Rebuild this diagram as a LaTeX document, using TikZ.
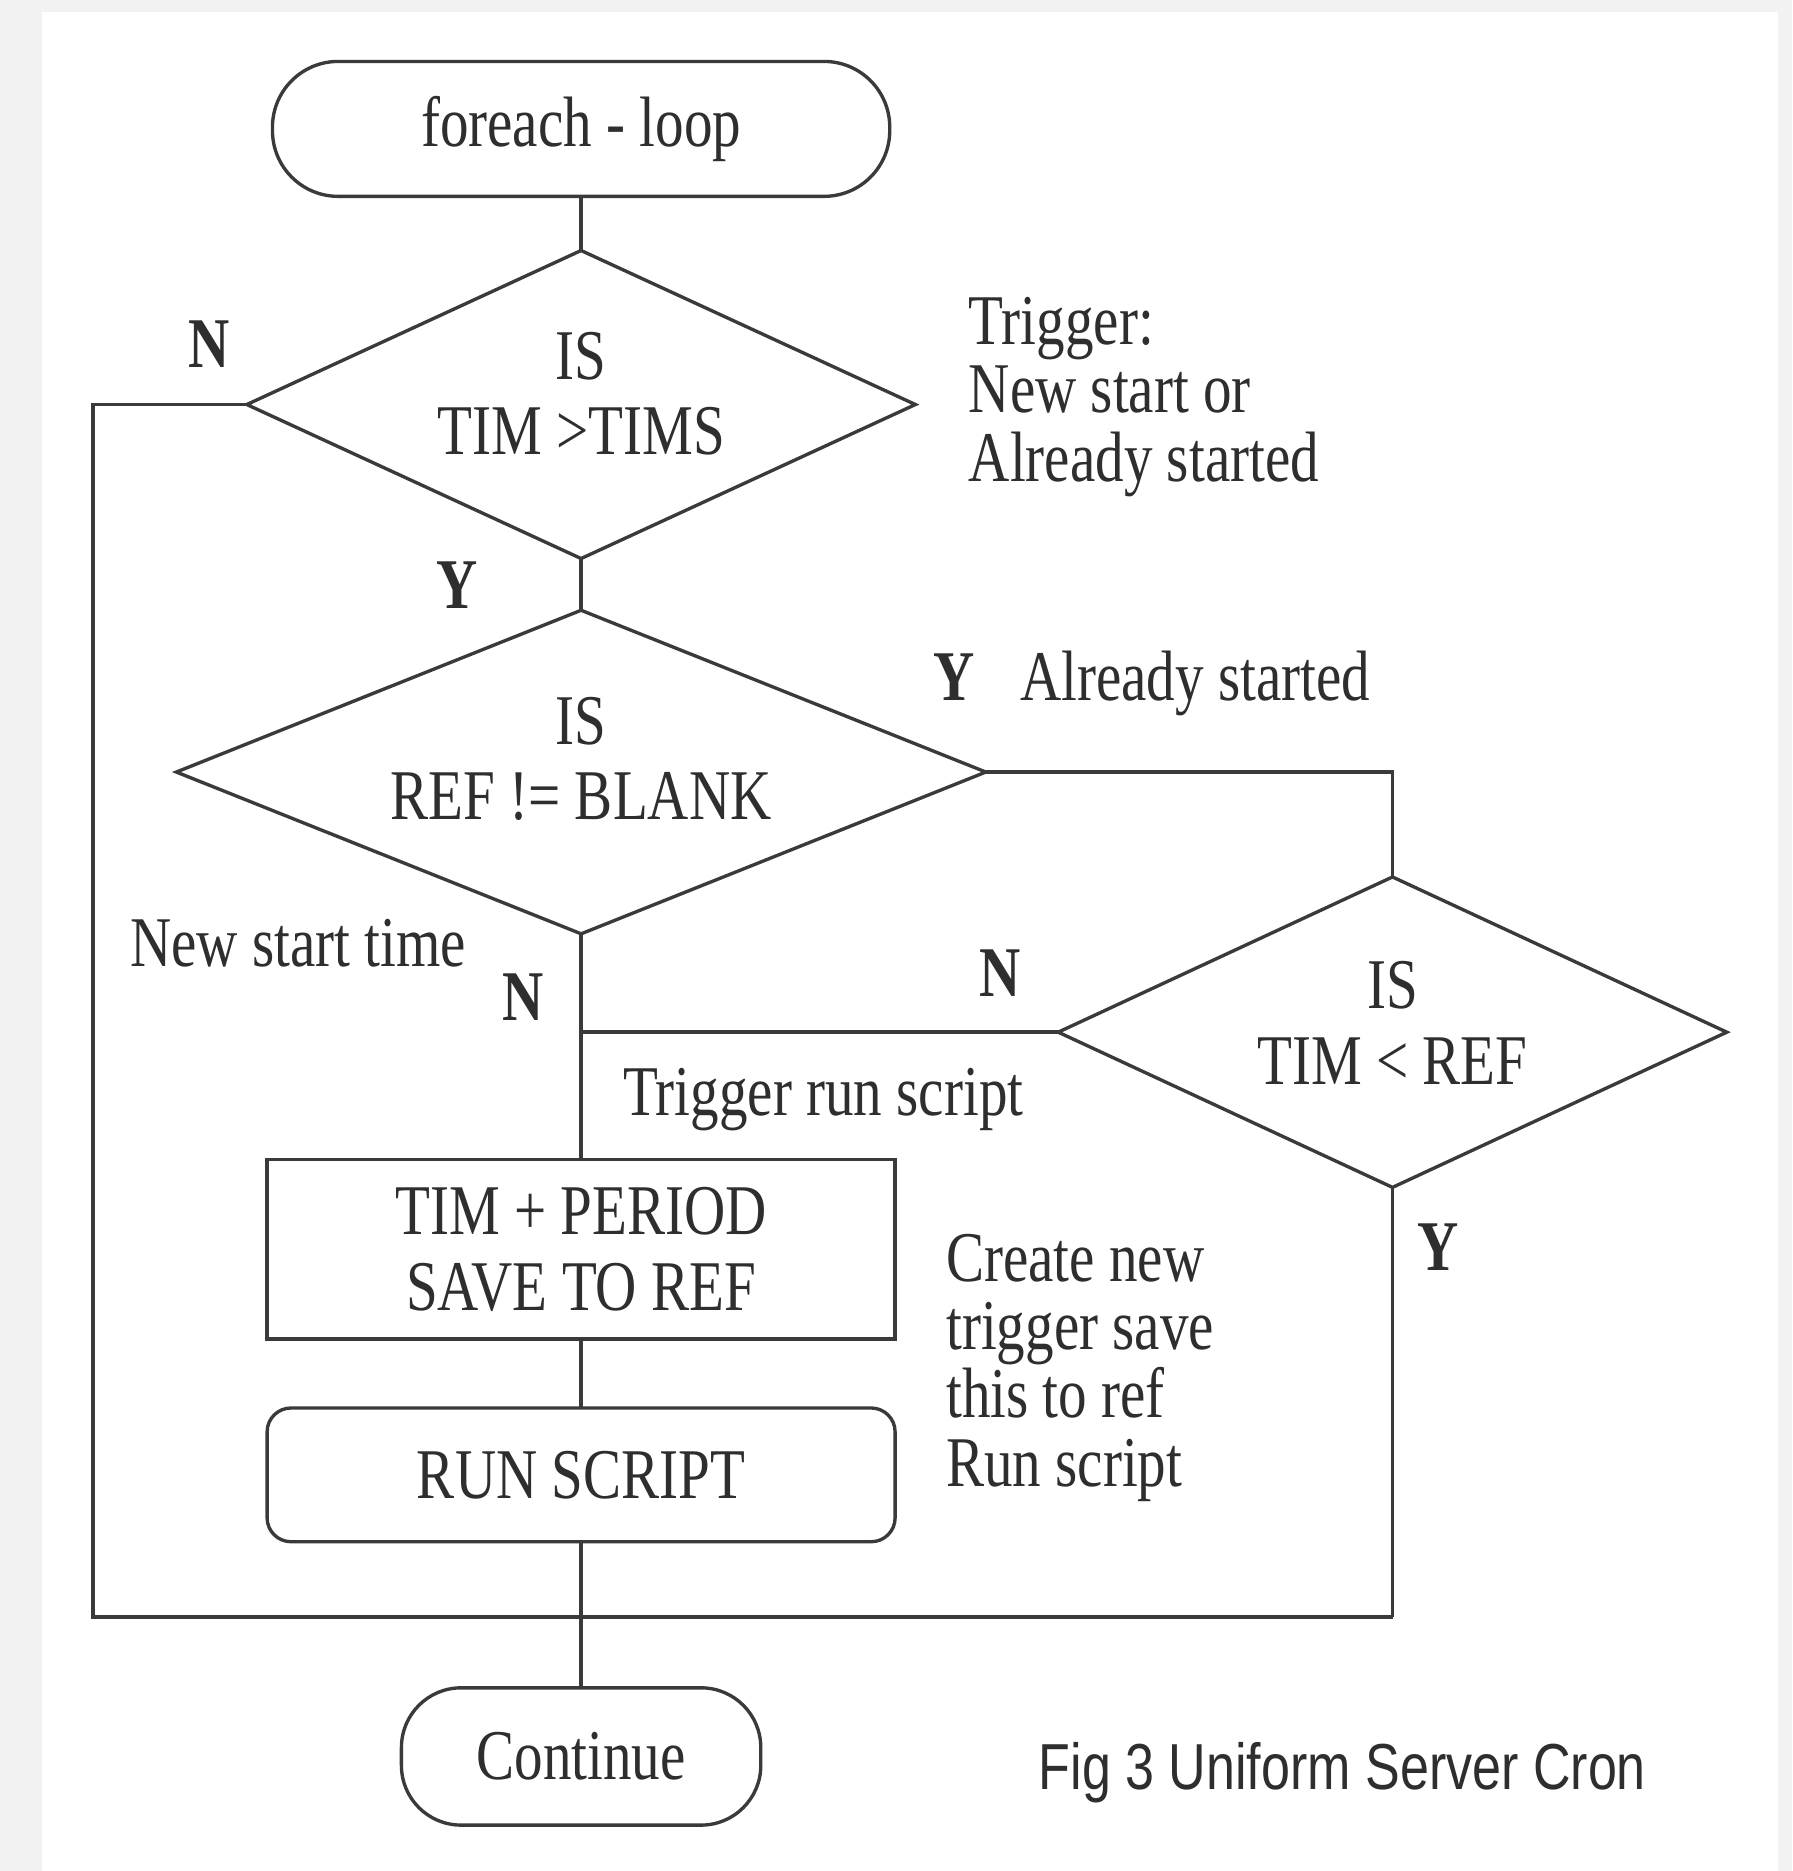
\documentclass[tikz,border=0pt]{standalone}
\usepackage{fontspec}
\setmainfont[FakeStretch=0.8]{Liberation Serif}
\newfontfamily\capfont[FakeStretch=0.8]{Liberation Sans}
\usetikzlibrary{shapes.geometric}
\definecolor{ink}{HTML}{2E2E2E}
\definecolor{edge}{HTML}{3A3A3A}
\definecolor{pagebg}{HTML}{F2F2F2}
\begin{document}
\begin{tikzpicture}[x=0.01cm,y=-0.01cm,
  every node/.style={text=ink, font=\fontsize{17}{18}\selectfont, inner sep=0pt, outer sep=0pt},
  conn/.style={draw=edge, line width=0.8pt},
  termbox/.style={draw=edge, line width=0.8pt, rectangle, rounded corners=0.55cm, align=center},
  procbox/.style={draw=edge, line width=0.8pt, rectangle, minimum width=5.26cm, align=center},
  decision/.style={draw=edge, line width=0.8pt, diamond, inner sep=0pt},
  note/.style={align=left, font=\fontsize{17}{16.3}\selectfont},
  flag/.style={font=\fontsize{17}{20}\selectfont\bfseries}]
% page
\fill[pagebg] (0,0) rectangle (1502,1568);
\fill[white] (35,10) rectangle (1490,1568);
\useasboundingbox (0,0) rectangle (1502,1568);

% main nodes
\node[termbox, minimum width=5.17cm, minimum height=1.13cm] (t1) at (487,108) {foreach - loop};
\node[decision, minimum width=5.6cm, minimum height=2.58cm] (d1) at (487,339) {};
\node[align=center] (d1t) at (487,330) {IS\\TIM >TIMS};
\node[decision, minimum width=6.78cm, minimum height=2.71cm] (d2) at (487,647) {};
\node[align=center] (d2t) at (487,636) {IS\\REF != BLANK};
\node[decision, minimum width=5.6cm, minimum height=2.6cm] (d3) at (1167,865) {};
\node[align=center] (d3t) at (1167,857) {IS\\TIM < REF};
\node[procbox, minimum height=1.5cm] (b1) at (487,1047) {TIM + PERIOD\\SAVE TO REF};
\node[procbox, rounded corners=0.2cm, minimum height=1.12cm] (b2) at (487,1236) {RUN SCRIPT};
\node[termbox, rounded corners=0.5cm, minimum width=3.01cm, minimum height=1.15cm] (t2) at (487,1472) {Continue};

% notes
\node[note, anchor=north west] (n1) at (812,249) {Trigger:\\New start or\\Already started};
\node[note, anchor=north west] (n2) at (793,1034) {Create new\\trigger save\\this to ref\\Run script};
\node[anchor=base west] (n3) at (855,587) {Already started};
\node[anchor=base] (n4) at (250,810) {New start time};
\node[anchor=base] (n5) at (690,935) {Trigger run script};

% flags
\node[flag, anchor=base] (fN1) at (175,308) {N};
\node[flag, anchor=base] (fY1) at (383,510) {Y};
\node[flag, anchor=base] (fY2) at (800,587) {Y};
\node[flag, anchor=base] (fN2) at (838,835) {N};
\node[flag, anchor=base] (fN3) at (438,855) {N};
\node[flag, anchor=base] (fY3) at (1205,1065) {Y};

% caption
\node[font=\capfont\fontsize{15.5}{18}\selectfont, anchor=base] (cap) at (1125,1500) {Fig 3 Uniform Server Cron};

% junction points
\coordinate (bl) at (78,1355);
\coordinate (br) at (1167,1355);
\coordinate (jn) at (487,865);

% connectors
\draw[conn] (t1.south) -- (d1.north);
\draw[conn] (d1.south) -- (d2.north);
\draw[conn] (d2.south) -- (b1.north);
\draw[conn] (b1.south) -- (b2.north);
\draw[conn] (b2.south) -- (t2.north);
\draw[conn] (d1.west) -| (bl) -- (br);
\draw[conn] (d2.east) -| (d3.north);
\draw[conn] (d3.west) -- (jn);
\draw[conn] (d3.south) -- (br);
\end{tikzpicture}
\end{document}
